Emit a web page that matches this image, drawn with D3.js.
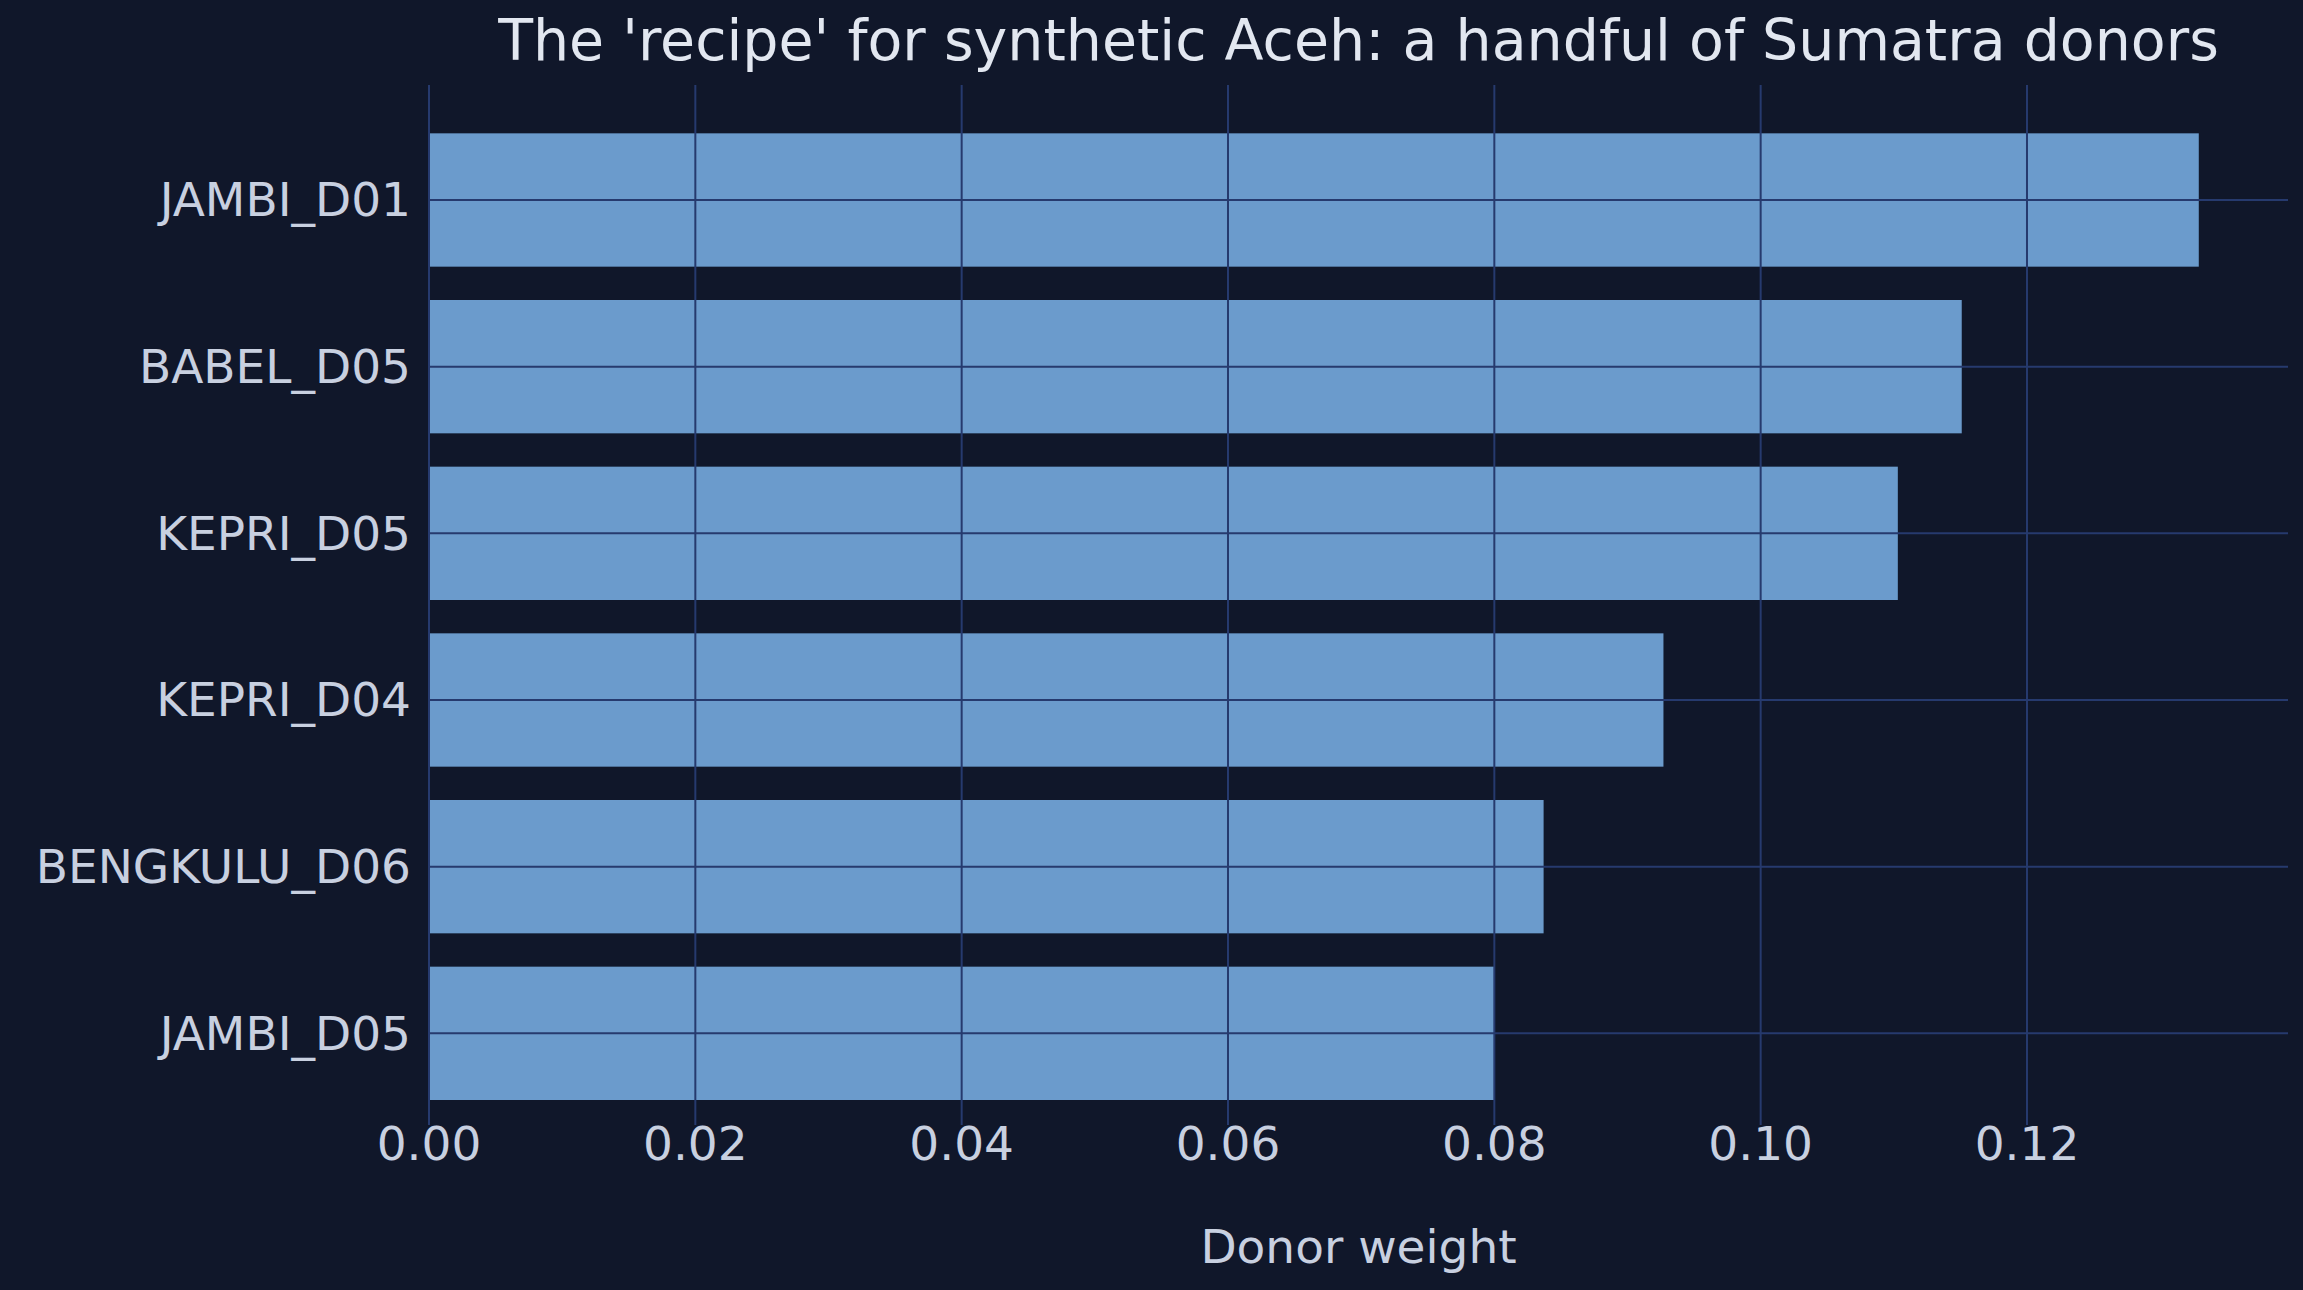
<!DOCTYPE html>
<html><head><meta charset="utf-8">
<script src="https://cdn.jsdelivr.net/npm/d3@7"></script>
<style>body{margin:0;background:#10172a}</style></head>
<body><svg id="c" width="2303" height="1290"></svg>
<script>
const donors=["JAMBI_D01","BABEL_D05","KEPRI_D05","KEPRI_D04","BENGKULU_D06","JAMBI_D05"];
const weights=[0.1329,0.1151,0.1103,0.0927,0.0837,0.0800];
const xTicks=[0,0.02,0.04,0.06,0.08,0.10,0.12];
const W=2303,H=1290,L=429,R=2288,T=85,B=1125;
const svg=d3.select("#c");
svg.append("rect").attr("width",W).attr("height",H).attr("fill","#10172a");
const x=d3.scaleLinear().domain([0,0.1396]).range([L,R]);
const y=d3.scaleLinear().domain([-0.69,5.55]).range([T,B]);
const bh=y(0.4)-y(-0.4);
svg.selectAll(".bar").data(donors).join("rect")
 .attr("x",x(0)).attr("y",(d,i)=>y(i)-bh/2).attr("width",(d,i)=>x(weights[i])-x(0)).attr("height",bh)
 .attr("fill","#6b9bcc");
const g=svg.append("g");
g.selectAll(".vg").data(xTicks).join("line").attr("x1",d=>x(d)).attr("x2",d=>x(d)).attr("y1",T).attr("y2",B)
 .attr("stroke","#263a6e").attr("stroke-width",2);
g.selectAll(".hg").data(donors).join("line").attr("x1",L).attr("x2",R).attr("y1",(d,i)=>y(i)).attr("y2",(d,i)=>y(i))
 .attr("stroke","#263a6e").attr("stroke-width",2);
const tc="#c8d0e0",ff="DejaVu Sans";
svg.selectAll(".xt").data(xTicks).join("text").attr("x",d=>x(d)).attr("y",1160).attr("text-anchor","middle")
 .attr("fill",tc).attr("font-family",ff).attr("font-size",47).text(d=>d3.format(".2f")(d));
svg.selectAll(".yt").data(donors).join("text").attr("x",411).attr("y",(d,i)=>y(i)).attr("dy","0.35em").attr("text-anchor","end")
 .attr("fill",tc).attr("font-family",ff).attr("font-size",47).text(d=>d);
svg.append("text").attr("x",(L+R)/2).attr("y",1263).attr("text-anchor","middle").attr("fill",tc)
 .attr("font-family",ff).attr("font-size",47).text("Donor weight");
svg.append("text").attr("x",(L+R)/2).attr("y",60).attr("text-anchor","middle").attr("fill","#e2e7f0")
 .attr("font-family",ff).attr("font-size",57).text("The 'recipe' for synthetic Aceh: a handful of Sumatra donors");
</script></body></html>
